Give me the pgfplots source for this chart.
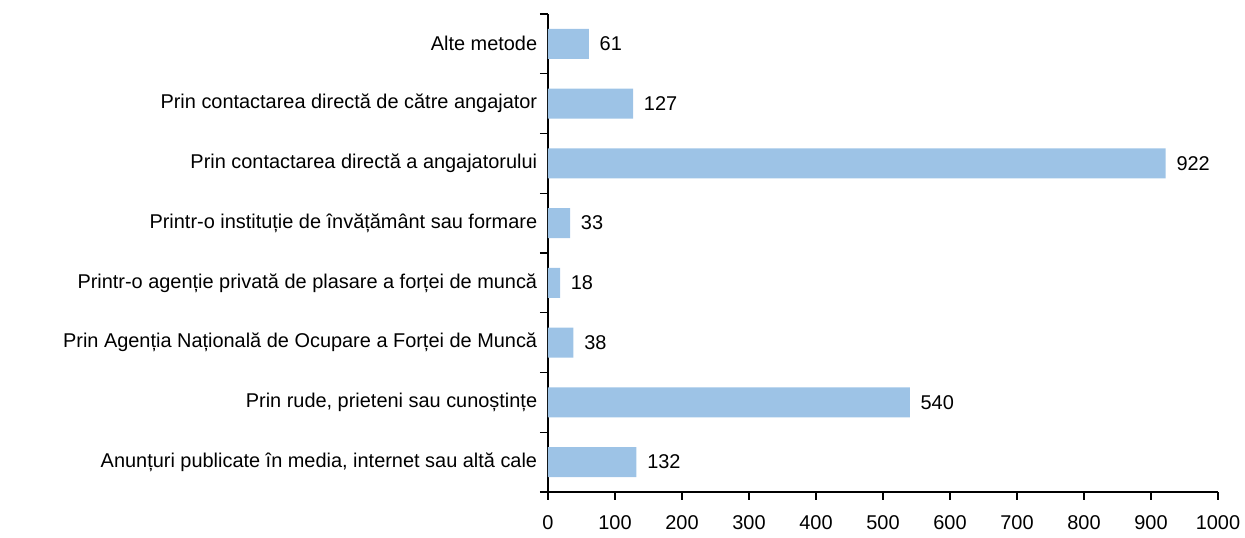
\documentclass[border=0pt]{standalone}
\usepackage{fontspec}
\setmainfont{Liberation Sans}
\usepackage{pgfplots}
\pgfplotsset{compat=1.18}
\definecolor{barblue}{RGB}{157,195,230}

\begin{document}
\fontsize{20}{23}\selectfont
\begin{tikzpicture}
\begin{axis}[
  xbar,
  scale only axis,
  width=670bp,
  height=478bp,
  xmin=0, xmax=1000,
  ymin=-0.5, ymax=7.5,
  axis x line*=bottom,
  axis y line*=left,
  axis line style={line width=1.3bp},
  tick style={line width=1.3bp, black},
  tick align=outside,
  major tick length=8bp,
  bar width=30bp,
  xtick={0,100,...,1000},
  /pgf/number format/1000 sep={},
  /pgf/number format/assume math mode=true,
  xticklabel style={yshift=-9bp},
  ytick={-0.5,0.5,...,7.5},
  yticklabels={},
  extra y ticks={0,1,2,3,4,5,6,7},
  extra y tick labels={
    {Anunțuri publicate în media, internet sau altă cale},
    {Prin rude, prieteni sau cunoștințe},
    {Prin Agenția Națională de Ocupare a Forței de Muncă},
    {Printr-o agenție privată de plasare a forței de muncă},
    {Printr-o instituție de învățământ sau formare},
    {Prin contactarea directă a angajatorului},
    {Prin contactarea directă de către angajator},
    {Alte metode}},
  extra y tick style={major tick length=0pt, yticklabel style={xshift=-4bp}},
  nodes near coords,
  nodes near coords style={black, xshift=4bp},
]
\addplot[fill=barblue, draw=none] coordinates {
  (132,0) (540,1) (38,2) (18,3) (33,4) (922,5) (127,6) (61,7)
};
\end{axis}
\pgfresetboundingbox
\useasboundingbox ([xshift=-548bp,yshift=14bp]current axis.north west)
  rectangle ([xshift=27bp,yshift=-46bp]current axis.south east);
\end{tikzpicture}
\end{document}
